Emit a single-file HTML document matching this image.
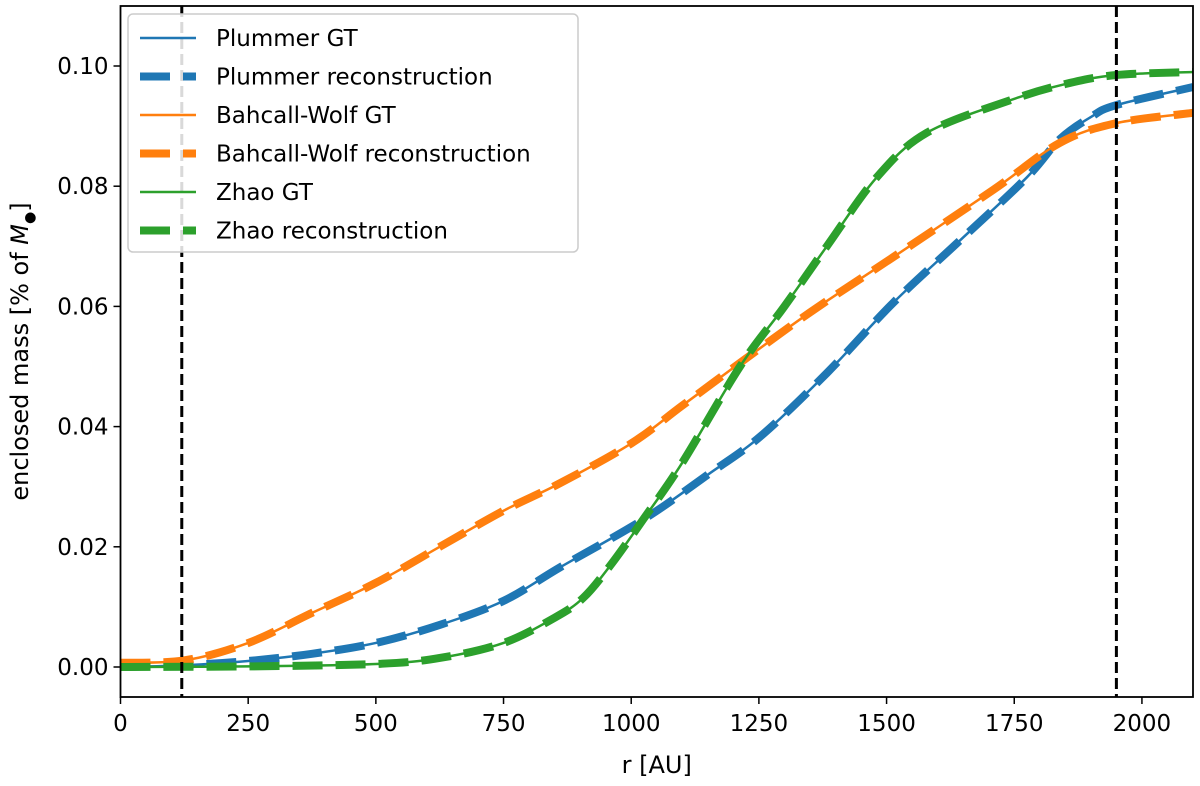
<!DOCTYPE html>
<html><head><meta charset="utf-8"><style>
body{margin:0;background:#fff}
svg text{font-family:"DejaVu Sans","Liberation Sans",sans-serif;fill:#000}
</style></head><body>
<svg id="chart" width="1200" height="781">
<g id="plot"></g>
</svg>
<script>
const xTicks=[0,250,500,750,1000,1250,1500,1750,2000];
const yTicks=[0.00,0.02,0.04,0.06,0.08,0.10];
const yTickLabels=["0.00","0.02","0.04","0.06","0.08","0.10"];
const vlines=[120,1950];
const plummerR=[0,125,250,375,500,625,750,861,1023,1150,1252,1383,1513,1644,1775,1839,1900,1950,2100];
const plummerM=[0,0.0003,0.001,0.0022,0.004,0.007,0.011,0.0166,0.0245,0.032,0.0383,0.0489,0.0606,0.071,0.0815,0.0878,0.0915,0.0935,0.0965];
const bwR=[0,125,250,375,500,625,750,861,1000,1100,1213,1350,1513,1709,1839,1950,2100];
const bwM=[0.0007,0.0011,0.004,0.009,0.014,0.020,0.026,0.0306,0.0372,0.0435,0.0506,0.059,0.0682,0.0794,0.0872,0.0905,0.0922];
const zhaoR=[0,250,500,625,750,850,906,960,1023,1100,1213,1300,1383,1481,1579,1742,1850,1950,2100];
const zhaoM=[0,0.0001,0.0005,0.0015,0.004,0.0082,0.0115,0.017,0.0245,0.034,0.050,0.060,0.070,0.0815,0.0889,0.0943,0.097,0.0985,0.099];
const X0=120.5,X1=1193,Y0=697,Y1=6;
const xs=v=>X0+(v/2100)*(X1-X0);
const ys=v=>667-v*6010;
const NS="http://www.w3.org/2000/svg";
const svg=document.getElementById('chart');
function mk(t,a,p){const e=document.createElementNS(NS,t);for(const k in a)e.setAttribute(k,a[k]);(p||svg).appendChild(e);return e;}
const clip=mk('clipPath',{id:'clp'});mk('rect',{x:X0,y:Y1,width:X1-X0,height:Y0-Y1},clip);
const plot=mk('g',{'clip-path':'url(#clp)'});
function pathD(R,M){const p=R.map((r,i)=>[xs(r),ys(M[i])]);let d=`M${p[0][0]},${p[0][1]}`;
for(let i=0;i<p.length-1;i++){const a=p[i-1]||p[i],b=p[i],c=p[i+1],e=p[i+2]||c;
d+=` C${b[0]+(c[0]-a[0])/6},${b[1]+(c[1]-a[1])/6} ${c[0]-(e[0]-b[0])/6},${c[1]-(e[1]-b[1])/6} ${c[0]},${c[1]}`;}return d;}
const series=[["plummer",plummerR,plummerM,"#1f77b4"],["bahcall-wolf",bwR,bwM,"#ff7f0e"],["zhao",zhaoR,zhaoM,"#2ca02c"]];
series.forEach(s=>{
const g=mk('path',{d:pathD(s[1],s[2]),fill:'none',stroke:s[3],'stroke-width':2.5},plot);


const r=mk('path',{d:pathD(s[1],s[2]),fill:'none',stroke:s[3],'stroke-width':8,'stroke-dasharray':'30 13'},plot);


});
vlines.forEach(v=>{const l=mk('line',{x1:xs(v),x2:xs(v),y1:Y1,y2:Y0,stroke:'#000','stroke-width':3,'stroke-dasharray':'11 5'},plot);

});
const fr=mk('rect',{x:X0,y:Y1,width:X1-X0,height:Y0-Y1,fill:'none',stroke:'#000','stroke-width':1.8});


xTicks.forEach(v=>{mk('line',{x1:xs(v),x2:xs(v),y1:Y0,y2:Y0+7,stroke:'#000','stroke-width':1.5});
const t=mk('text',{x:xs(v),y:Y0+34,'text-anchor':'middle','font-size':23});t.textContent=v;

});
yTicks.forEach((v,i)=>{mk('line',{x1:X0-7,x2:X0,y1:ys(v),y2:ys(v),stroke:'#000','stroke-width':1.5});
const t=mk('text',{x:X0-12,y:ys(v)+8,'text-anchor':'end','font-size':23});t.textContent=yTickLabels[i];

});
const xt=mk('text',{x:(X0+X1)/2,y:773,'text-anchor':'middle','font-size':24});xt.textContent='r [AU]';


const yt=mk('text',{x:0,y:0,'text-anchor':'middle','font-size':24,transform:`translate(28,${(Y0+Y1)/2}) rotate(-90)`});
yt.innerHTML='enclosed mass [% of <tspan font-style="italic">M</tspan><tspan font-size="14" dy="6">●</tspan><tspan dy="-6">]</tspan>';


const lg=mk('g',{});


mk('rect',{x:128,y:14,width:450,height:238,rx:5,fill:'#fff','fill-opacity':0.85,stroke:'#ccc','stroke-width':1.5},lg);
const labels=["Plummer GT","Plummer reconstruction","Bahcall-Wolf GT","Bahcall-Wolf reconstruction","Zhao GT","Zhao reconstruction"];
labels.forEach((L,i)=>{const y=38+i*38.5,c=series[Math.floor(i/2)][3];
if(i%2==0)mk('line',{x1:140,x2:196,y1:y,y2:y,stroke:c,'stroke-width':2.5},lg);
else mk('line',{x1:140,x2:196,y1:y,y2:y,stroke:c,'stroke-width':8,'stroke-dasharray':'30 13'},lg);
const t=mk('text',{x:216,y:y+8,'font-size':23},lg);t.textContent=L;

});
</script>
</body></html>
